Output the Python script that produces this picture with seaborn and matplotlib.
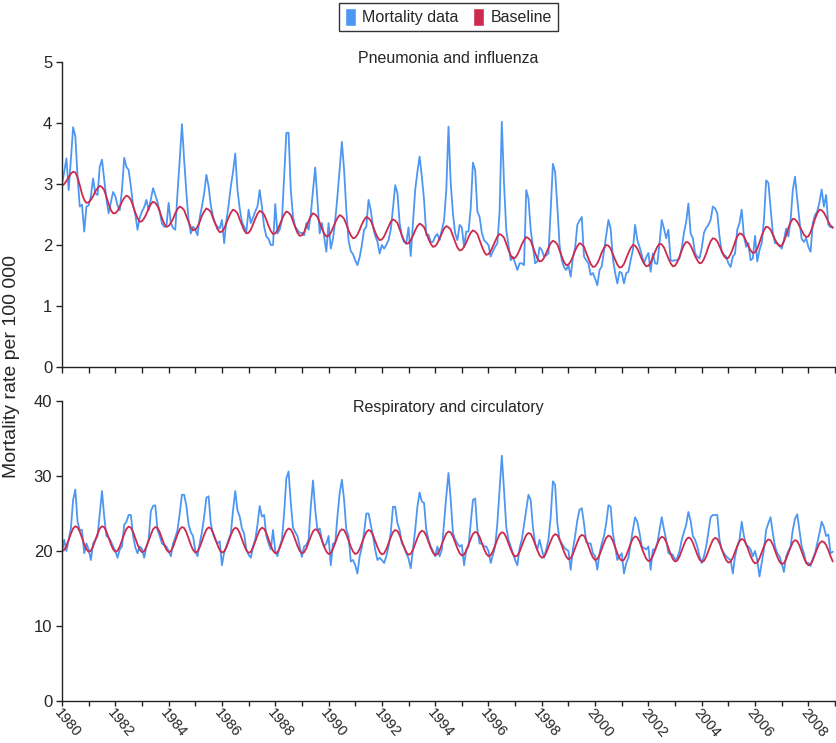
# monthly mortality vs. seasonal baseline, two panels
import numpy as np
import pandas as pd
import matplotlib.pyplot as plt
import seaborn as sns
from matplotlib.patches import Patch

# one row per year (1980..2008), Jan..Dec
pi_mortality = [
    3.00, 3.20, 3.42, 2.90, 3.40, 3.93, 3.78, 3.12, 2.63, 2.66, 2.22, 2.63,
    2.65, 2.80, 3.09, 2.85, 2.82, 3.28, 3.40, 3.07, 2.75, 2.52, 2.70, 2.87,
    2.80, 2.65, 2.57, 2.90, 3.43, 3.28, 3.23, 2.96, 2.65, 2.50, 2.25, 2.45,
    2.55, 2.62, 2.74, 2.57, 2.75, 2.93, 2.82, 2.70, 2.55, 2.35, 2.30, 2.30,
    2.69, 2.36, 2.28, 2.25, 2.85, 3.40, 3.98, 3.39, 2.85, 2.40, 2.19, 2.30,
    2.25, 2.16, 2.45, 2.63, 2.85, 3.15, 2.96, 2.65, 2.46, 2.35, 2.30, 2.27,
    2.41, 2.03, 2.40, 2.65, 2.96, 3.20, 3.50, 2.90, 2.60, 2.38, 2.30, 2.22,
    2.58, 2.36, 2.45, 2.55, 2.63, 2.90, 2.63, 2.30, 2.14, 2.10, 2.00, 2.00,
    2.67, 2.19, 2.25, 2.40, 3.12, 3.84, 3.84, 2.90, 2.46, 2.30, 2.25, 2.20,
    2.20, 2.16, 2.36, 2.25, 2.50, 2.90, 3.27, 2.74, 2.19, 2.36, 2.14, 1.89,
    2.36, 1.94, 2.10, 2.40, 2.80, 3.25, 3.69, 3.23, 2.57, 2.08, 1.90, 1.85,
    1.75, 1.67, 1.80, 2.00, 2.25, 2.30, 2.74, 2.57, 2.30, 2.15, 2.06, 1.86,
    2.00, 1.94, 2.00, 2.08, 2.25, 2.60, 2.98, 2.85, 2.36, 2.15, 2.05, 2.03,
    2.29, 1.82, 2.36, 2.90, 3.20, 3.45, 3.12, 2.74, 2.16, 2.17, 2.05, 2.05,
    2.14, 2.18, 2.08, 2.25, 2.40, 2.90, 3.94, 3.01, 2.52, 2.19, 2.08, 2.33,
    2.29, 1.97, 2.22, 2.22, 2.60, 3.35, 3.23, 2.55, 2.46, 2.20, 2.08, 2.04,
    2.00, 1.81, 1.90, 1.97, 2.03, 2.55, 4.02, 3.01, 2.25, 2.00, 1.75, 1.81,
    1.70, 1.59, 1.70, 1.70, 1.67, 2.90, 2.76, 2.25, 1.97, 1.70, 1.73, 1.96,
    1.92, 1.81, 1.83, 1.86, 2.57, 3.33, 3.20, 2.63, 2.00, 1.75, 1.64, 1.59,
    1.67, 1.48, 1.80, 1.95, 2.33, 2.40, 2.46, 1.81, 1.75, 1.70, 1.51, 1.54,
    1.45, 1.34, 1.59, 1.65, 1.90, 2.14, 2.41, 2.27, 1.78, 1.55, 1.37, 1.56,
    1.54, 1.37, 1.54, 1.56, 1.75, 1.92, 2.33, 2.08, 1.97, 1.84, 1.70, 1.80,
    1.87, 1.56, 1.86, 1.70, 1.69, 2.03, 2.41, 2.27, 2.11, 2.25, 1.75, 1.74,
    1.75, 1.75, 1.78, 1.95, 2.20, 2.38, 2.68, 2.19, 2.11, 1.86, 1.81, 1.78,
    1.95, 2.20, 2.28, 2.33, 2.41, 2.63, 2.60, 2.52, 2.14, 1.89, 1.84, 1.81,
    1.70, 1.64, 1.81, 1.86, 2.25, 2.36, 2.58, 2.14, 1.97, 2.03, 1.75, 1.78,
    2.15, 1.73, 1.92, 2.03, 2.40, 3.06, 3.02, 2.60, 2.20, 2.03, 2.03, 2.00,
    1.94, 2.08, 2.27, 2.14, 2.40, 2.90, 3.12, 2.75, 2.40, 2.10, 2.05, 2.11,
    1.97, 1.89, 2.36, 2.49, 2.55, 2.70, 2.91, 2.63, 2.82, 2.33, 2.29, 2.30,
]

pi_baseline = [
    2.97, 3.00, 3.05, 3.11, 3.17, 3.20, 3.19, 3.11, 2.98, 2.84, 2.74, 2.69,
    2.70, 2.74, 2.80, 2.88, 2.93, 2.97, 2.95, 2.90, 2.79, 2.67, 2.57, 2.52,
    2.52, 2.56, 2.63, 2.71, 2.77, 2.81, 2.79, 2.74, 2.64, 2.53, 2.44, 2.38,
    2.39, 2.44, 2.51, 2.60, 2.67, 2.71, 2.69, 2.64, 2.55, 2.44, 2.35, 2.30,
    2.31, 2.36, 2.43, 2.52, 2.59, 2.63, 2.61, 2.57, 2.47, 2.38, 2.29, 2.24,
    2.25, 2.30, 2.38, 2.48, 2.55, 2.60, 2.58, 2.54, 2.44, 2.35, 2.26, 2.21,
    2.22, 2.27, 2.36, 2.45, 2.53, 2.58, 2.56, 2.52, 2.42, 2.33, 2.24, 2.19,
    2.20, 2.25, 2.34, 2.43, 2.51, 2.56, 2.54, 2.50, 2.41, 2.31, 2.23, 2.18,
    2.19, 2.24, 2.33, 2.42, 2.50, 2.55, 2.53, 2.49, 2.39, 2.29, 2.20, 2.15,
    2.16, 2.21, 2.30, 2.39, 2.47, 2.52, 2.50, 2.46, 2.37, 2.27, 2.19, 2.14,
    2.15, 2.20, 2.28, 2.37, 2.44, 2.49, 2.47, 2.43, 2.34, 2.24, 2.16, 2.11,
    2.12, 2.17, 2.25, 2.34, 2.41, 2.46, 2.44, 2.40, 2.31, 2.21, 2.13, 2.08,
    2.09, 2.14, 2.22, 2.30, 2.38, 2.42, 2.40, 2.36, 2.26, 2.16, 2.07, 2.02,
    2.03, 2.08, 2.15, 2.24, 2.31, 2.35, 2.33, 2.29, 2.20, 2.10, 2.02, 1.97,
    1.98, 2.03, 2.11, 2.19, 2.27, 2.31, 2.29, 2.25, 2.15, 2.05, 1.96, 1.91,
    1.92, 1.97, 2.04, 2.13, 2.20, 2.24, 2.22, 2.18, 2.08, 1.98, 1.89, 1.84,
    1.85, 1.90, 1.98, 2.06, 2.14, 2.18, 2.16, 2.12, 2.02, 1.92, 1.83, 1.78,
    1.79, 1.84, 1.92, 2.01, 2.08, 2.13, 2.11, 2.07, 1.97, 1.87, 1.78, 1.73,
    1.74, 1.79, 1.87, 1.95, 2.03, 2.07, 2.05, 2.01, 1.91, 1.81, 1.72, 1.67,
    1.68, 1.73, 1.81, 1.91, 1.98, 2.03, 2.01, 1.97, 1.87, 1.78, 1.69, 1.64,
    1.65, 1.70, 1.78, 1.88, 1.95, 2.00, 1.99, 1.94, 1.85, 1.76, 1.68, 1.63,
    1.64, 1.69, 1.78, 1.87, 1.95, 2.00, 1.99, 1.94, 1.86, 1.77, 1.70, 1.65,
    1.66, 1.71, 1.80, 1.89, 1.97, 2.02, 2.01, 1.96, 1.87, 1.78, 1.70, 1.65,
    1.66, 1.72, 1.81, 1.91, 2.00, 2.05, 2.04, 1.99, 1.91, 1.82, 1.75, 1.70,
    1.71, 1.77, 1.86, 1.97, 2.06, 2.11, 2.10, 2.06, 1.98, 1.90, 1.82, 1.78,
    1.79, 1.85, 1.94, 2.05, 2.14, 2.19, 2.18, 2.14, 2.06, 1.98, 1.91, 1.87,
    1.88, 1.94, 2.04, 2.15, 2.24, 2.30, 2.29, 2.25, 2.17, 2.09, 2.02, 1.98,
    1.99, 2.06, 2.16, 2.28, 2.37, 2.43, 2.42, 2.38, 2.31, 2.24, 2.17, 2.13,
    2.14, 2.21, 2.31, 2.43, 2.52, 2.58, 2.57, 2.53, 2.46, 2.38, 2.32, 2.28,
]

rc_mortality = [
    19.8, 21.5, 20.0, 21.5, 23.0, 26.8, 28.2, 23.9, 22.8, 22.8, 19.7, 21.0,
    20.2, 18.8, 21.0, 21.5, 22.0, 25.0, 28.0, 24.6, 22.0, 21.8, 21.3, 20.6,
    20.0, 19.1, 20.2, 20.6, 23.5, 23.9, 24.8, 24.8, 22.0, 20.5, 19.7, 20.6,
    20.3, 19.1, 20.6, 21.5, 25.3, 26.0, 26.1, 22.8, 22.0, 21.0, 20.8, 20.6,
    20.0, 19.3, 21.0, 21.8, 22.8, 25.0, 27.5, 27.5, 26.0, 23.5, 22.5, 22.0,
    20.0, 19.3, 21.0, 22.5, 24.6, 27.1, 27.3, 23.6, 22.3, 21.5, 21.0, 21.3,
    18.1, 19.8, 20.6, 21.5, 22.3, 25.4, 28.0, 25.4, 24.6, 23.0, 22.3, 20.2,
    19.5, 19.1, 20.6, 21.5, 23.5, 26.0, 24.6, 24.8, 22.0, 21.0, 20.2, 22.8,
    20.0, 19.3, 20.6, 21.5, 25.0, 29.7, 30.6, 26.4, 23.1, 22.5, 22.0, 20.6,
    19.2, 20.6, 20.8, 21.5, 25.9, 29.4, 25.5, 22.8, 23.0, 21.5, 20.6, 21.0,
    22.0, 18.1, 21.0, 21.0, 24.6, 27.7, 29.5, 26.8, 22.8, 22.0, 18.6, 18.8,
    18.1, 17.0, 19.3, 20.5, 22.5, 25.0, 25.0, 23.5, 22.0, 20.2, 18.8, 19.1,
    18.8, 18.4, 19.3, 20.6, 22.4, 25.9, 25.9, 23.7, 22.8, 21.0, 20.6, 19.7,
    19.0, 17.7, 20.2, 22.8, 25.9, 27.8, 26.6, 26.4, 22.8, 21.5, 20.6, 20.0,
    19.3, 20.6, 19.3, 20.2, 23.7, 27.3, 30.4, 26.8, 22.4, 21.5, 21.0, 20.6,
    20.8, 18.1, 20.2, 20.6, 23.7, 26.8, 27.0, 22.8, 21.0, 21.0, 20.6, 20.6,
    20.0, 18.4, 19.5, 20.6, 23.7, 28.1, 32.7, 28.1, 23.2, 21.5, 20.6, 19.7,
    18.8, 18.1, 20.4, 21.5, 23.5, 25.5, 27.5, 26.8, 23.2, 21.0, 20.2, 21.5,
    20.2, 19.1, 20.2, 21.5, 24.5, 29.3, 28.8, 23.7, 21.5, 21.0, 20.5, 20.2,
    20.0, 17.5, 20.2, 22.0, 24.1, 25.5, 25.7, 23.7, 21.2, 21.0, 21.0, 19.7,
    19.3, 17.5, 19.7, 21.0, 22.0, 23.7, 26.1, 25.9, 22.4, 20.6, 18.8, 19.3,
    19.7, 17.0, 18.4, 19.1, 21.0, 22.8, 24.5, 23.9, 22.4, 20.6, 20.4, 20.2,
    20.6, 17.5, 20.2, 20.2, 21.0, 22.8, 24.5, 22.9, 21.5, 19.7, 19.6, 19.5,
    18.8, 19.1, 20.0, 21.5, 22.5, 23.5, 25.2, 24.0, 22.0, 21.5, 20.6, 19.3,
    18.4, 19.3, 20.6, 22.5, 24.5, 24.8, 24.8, 24.8, 21.5, 20.2, 19.7, 19.3,
    19.0, 18.8, 17.0, 19.3, 20.6, 21.5, 23.9, 22.0, 20.8, 20.6, 20.2, 19.3,
    20.0, 18.8, 16.6, 18.4, 20.2, 22.8, 23.7, 24.5, 22.4, 20.6, 19.7, 19.3,
    18.4, 17.2, 19.3, 20.0, 20.6, 22.8, 24.3, 24.9, 22.8, 20.6, 19.7, 18.4,
    18.4, 18.0, 19.0, 19.7, 21.0, 22.4, 23.9, 23.2, 22.0, 22.2, 19.7, 19.9,
]

rc_baseline = [
    20.00, 20.13, 20.69, 21.49, 22.31, 23.00, 23.30, 23.16, 22.59, 21.77, 20.92, 20.24,
    19.90, 20.04, 20.61, 21.43, 22.28, 22.99, 23.30, 23.16, 22.59, 21.77, 20.92, 20.24,
    19.90, 20.03, 20.60, 21.41, 22.25, 22.95, 23.25, 23.11, 22.54, 21.72, 20.87, 20.19,
    19.85, 19.98, 20.55, 21.36, 22.20, 22.90, 23.20, 23.07, 22.50, 21.69, 20.86, 20.19,
    19.85, 19.98, 20.55, 21.36, 22.20, 22.90, 23.20, 23.06, 22.49, 21.67, 20.82, 20.14,
    19.80, 19.93, 20.50, 21.31, 22.15, 22.85, 23.15, 23.02, 22.45, 21.64, 20.81, 20.14,
    19.80, 19.93, 20.49, 21.29, 22.11, 22.80, 23.10, 22.97, 22.40, 21.59, 20.76, 20.09,
    19.75, 19.88, 20.45, 21.26, 22.10, 22.80, 23.10, 22.96, 22.39, 21.57, 20.72, 20.04,
    19.70, 19.83, 20.39, 21.19, 22.01, 22.70, 23.00, 22.87, 22.31, 21.52, 20.69, 20.03,
    19.70, 19.83, 20.37, 21.14, 21.94, 22.61, 22.90, 22.77, 22.21, 21.42, 20.59, 19.93,
    19.60, 19.73, 20.29, 21.09, 21.91, 22.60, 22.90, 22.77, 22.21, 21.42, 20.59, 19.93,
    19.60, 19.73, 20.27, 21.04, 21.84, 22.51, 22.80, 22.67, 22.12, 21.34, 20.53, 19.88,
    19.55, 19.68, 20.23, 21.01, 21.83, 22.51, 22.80, 22.67, 22.11, 21.32, 20.49, 19.83,
    19.50, 19.63, 20.17, 20.94, 21.74, 22.41, 22.70, 22.57, 22.02, 21.24, 20.43, 19.78,
    19.45, 19.58, 20.11, 20.87, 21.66, 22.32, 22.60, 22.47, 21.93, 21.16, 20.36, 19.72,
    19.40, 19.53, 20.06, 20.82, 21.61, 22.27, 22.55, 22.42, 21.87, 21.09, 20.28, 19.63,
    19.30, 19.43, 19.97, 20.74, 21.54, 22.21, 22.50, 22.37, 21.82, 21.04, 20.23, 19.58,
    19.25, 19.38, 19.91, 20.67, 21.46, 22.12, 22.40, 22.27, 21.71, 20.92, 20.09, 19.43,
    19.10, 19.23, 19.76, 20.52, 21.31, 21.97, 22.25, 22.12, 21.55, 20.74, 19.91, 19.24,
    18.90, 19.03, 19.58, 20.36, 21.18, 21.86, 22.15, 22.02, 21.45, 20.64, 19.81, 19.14,
    18.80, 18.93, 19.48, 20.26, 21.08, 21.76, 22.05, 21.92, 21.35, 20.54, 19.71, 19.04,
    18.70, 18.83, 19.38, 20.16, 20.98, 21.66, 21.95, 21.82, 21.26, 20.47, 19.64, 18.98,
    18.65, 18.78, 19.33, 20.11, 20.93, 21.61, 21.90, 21.77, 21.21, 20.42, 19.59, 18.93,
    18.60, 18.73, 19.27, 20.04, 20.84, 21.51, 21.80, 21.67, 21.12, 20.34, 19.53, 18.88,
    18.55, 18.68, 19.22, 19.99, 20.79, 21.46, 21.75, 21.62, 21.06, 20.27, 19.44, 18.78,
    18.45, 18.58, 19.11, 19.87, 20.66, 21.32, 21.60, 21.47, 20.92, 20.14, 19.33, 18.68,
    18.35, 18.48, 19.02, 19.79, 20.59, 21.26, 21.55, 21.42, 20.86, 20.07, 19.24, 18.58,
    18.25, 18.38, 18.92, 19.69, 20.49, 21.16, 21.45, 21.32, 20.75, 19.94, 19.11, 18.44,
    18.10, 18.23, 18.77, 19.54, 20.34, 21.01, 21.30, 21.20, 20.80, 20.10, 19.30, 18.60,
]

series_names = ["Mortality data", "Baseline"]
panel_titles = ["Pneumonia and influenza", "Respiratory and circulatory"]
tick_years = list(range(1980, 2010))

blue = "#4d97f2"
red = "#cc2a4e"

# time axis: decimal year of each monthly value
t = 1980 + np.arange(len(pi_mortality)) / 12


def long_frame(mort, base):
    n = len(mort)
    return pd.DataFrame({
        "year": np.concatenate([t, t]),
        "rate": list(mort) + list(base),
        "series": [series_names[0]] * n + [series_names[1]] * n,
    })


sns.set_style("ticks")
plt.rcParams["font.family"] = ["Liberation Sans", "DejaVu Sans"]

fig = plt.figure(figsize=(8.37, 7.43), dpi=100)
ax1 = fig.add_axes([62 / 837, 1 - 367 / 743, 773 / 837, 305 / 743])
ax2 = fig.add_axes([62 / 837, 1 - 701 / 743, 773 / 837, 300 / 743])

panels = [
    (ax1, long_frame(pi_mortality, pi_baseline), (0, 5), [0, 1, 2, 3, 4, 5]),
    (ax2, long_frame(rc_mortality, rc_baseline), (0, 40), [0, 10, 20, 30, 40]),
]

for ax, df, ylim, yticks in panels:
    sns.lineplot(data=df, x="year", y="rate", hue="series", hue_order=series_names,
                 palette={series_names[0]: blue, series_names[1]: red},
                 linewidth=1.3, errorbar=None, legend=False, ax=ax)
    ax.set_xlim(1980, 2009)
    ax.set_ylim(*ylim)
    ax.set_yticks(yticks)
    ax.set_xticks(tick_years)
    ax.set_xlabel("")
    ax.set_ylabel("")
    sns.despine(ax=ax)
    for side in ["left", "bottom"]:
        ax.spines[side].set_linewidth(1.0)
        ax.spines[side].set_color("#222222")
    ax.tick_params(direction="out", length=4, width=1, color="#222222",
                   labelsize=12, pad=3)

ax1.set_xticklabels([])
ax2.set_xticklabels([str(y) if y % 2 == 0 else "" for y in tick_years],
                    rotation=-50, ha="left", va="top", rotation_mode="anchor",
                    fontsize=10.5)
ax2.tick_params(axis="x", length=3.5, pad=0)

ax1.text(0.5, 1.013, panel_titles[0], transform=ax1.transAxes,
         ha="center", va="center", fontsize=11.5)
ax2.text(0.5, 0.977, panel_titles[1], transform=ax2.transAxes,
         ha="center", va="center", fontsize=11.5)

fig.text(12 / 837, 1 - 367 / 743, "Mortality rate per 100 000", rotation=90,
         ha="center", va="center", fontsize=14)

handles = [Patch(facecolor=blue, label=series_names[0]),
           Patch(facecolor=red, label=series_names[1])]
leg = fig.legend(handles=handles, loc="center", bbox_to_anchor=(448.5 / 837, 1 - 17 / 743),
                 ncol=2, frameon=True, fancybox=False, edgecolor="black",
                 handlelength=0.7, handleheight=1.3, handletextpad=0.4,
                 columnspacing=0.9, borderpad=0.35, fontsize=11.5)
leg.get_frame().set_linewidth(1.0)

fig.savefig("out.png", dpi=100)
